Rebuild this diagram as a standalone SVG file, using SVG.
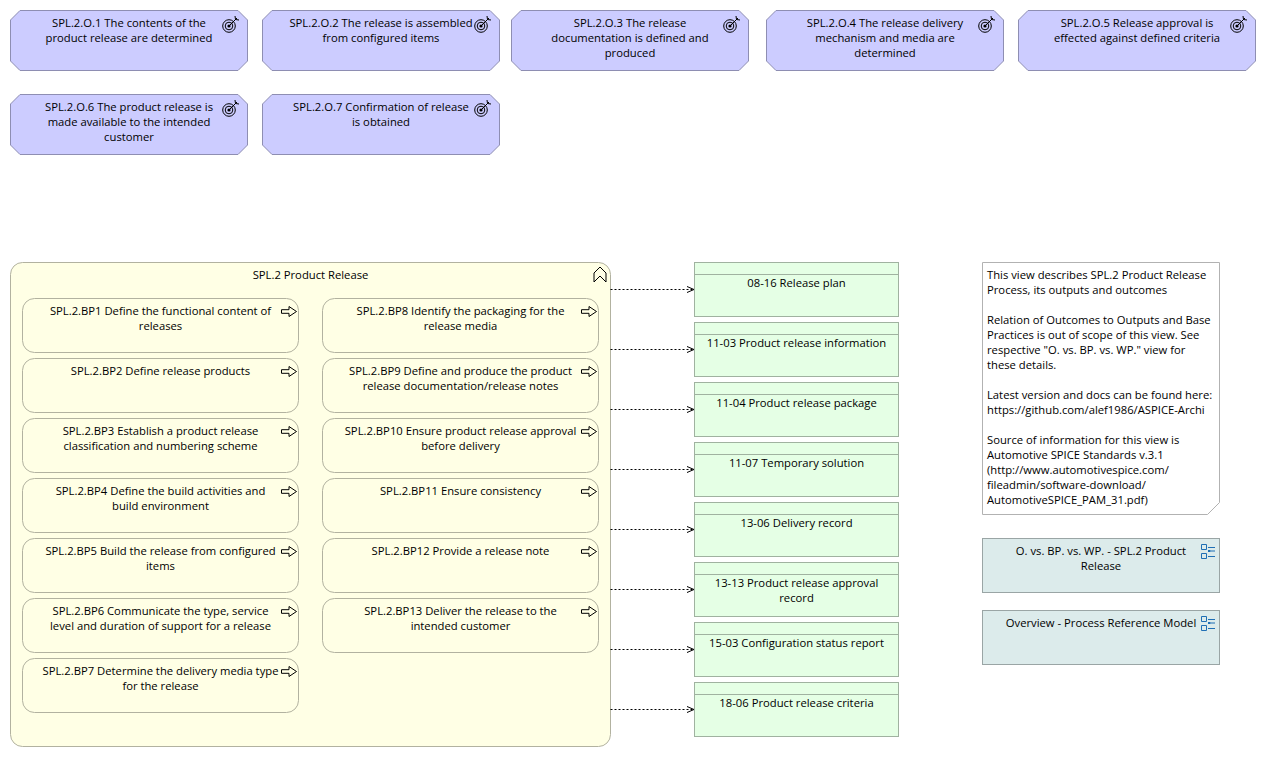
<svg xmlns="http://www.w3.org/2000/svg" width="1266" height="757" viewBox="0 0 1266 757">
<style>
text{font-family:"Open Sans","Noto Sans","Liberation Sans",sans-serif;font-size:11.25px;fill:#000;text-anchor:middle}
.l{text-anchor:start}
.goal{fill:#ccccff;stroke:#8e8eb2}
.bp{fill:#ffffe5;stroke:#b2b2a0}
.wp{fill:#e5ffe5;stroke:#a0b2a0}
.note{fill:#fff;stroke:#b2b2b2}
.view{fill:#dcebeb;stroke:#9aa5a5}
.ic{fill:none;stroke:#000}
.ib{fill:none;stroke:#1f6fb5}
.cn{fill:none;stroke:#000;stroke-dasharray:2 2}
</style>
<defs>
<path id="goalshape" d="M10 .5H228L237.500 10V51L228 60.500H10L.5 51V10Z"/>
<g id="target"><circle cx="0" cy="0" r="6.300" class="ic" stroke="#333" stroke-width="1"/><circle cx="0" cy="0" r="3.800" class="ic" stroke="#333" stroke-width="1"/><circle cx="0" cy="0" r="1.600" fill="#000"/><path d="M0 0L8-8M6-10L6.500-6.500L10-6" class="ic" stroke="#333"/></g>
<path id="arrow" d="M-7.500-1.800H0V-5L7.500 0L0 5V1.800H-7.500Z" fill="none" stroke="#000"/>
<g id="viewicon"><path d="M.5 .5H5.500V5.500H.5ZM.5 9.500H5.500V14.500H.5Z" class="ib"/><rect x="7" y="6" width="2.500" height="2" fill="#1f6fb5"/><path d="M7 3.500H14M7 12.500H14M9.500 7H14" class="ib"/></g>
<marker id="open" markerWidth="8" markerHeight="8" refX="7" refY="4" orient="auto" markerUnits="userSpaceOnUse"><path d="M0 1L7 4L0 7" fill="none" stroke="#000"/></marker>
</defs>

<g id="goal1"><use href="#goalshape" x="10" y="10" class="goal"/><use href="#target" x="229" y="26"/><text x="129" y="27">SPL.2.O.1 The contents of the</text><text x="129" y="42">product release are determined</text></g>
<g id="goal2"><use href="#goalshape" x="262" y="10" class="goal"/><use href="#target" x="481" y="26"/><text x="381" y="27">SPL.2.O.2 The release is assembled</text><text x="381" y="42">from configured items</text></g>
<g id="goal3"><use href="#goalshape" x="511" y="10" class="goal"/><use href="#target" x="730" y="26"/><text x="630" y="27">SPL.2.O.3 The release</text><text x="630" y="42">documentation is defined and</text><text x="630" y="57">produced</text></g>
<g id="goal4"><use href="#goalshape" x="766" y="10" class="goal"/><use href="#target" x="985" y="26"/><text x="885" y="27">SPL.2.O.4 The release delivery</text><text x="885" y="42">mechanism and media are</text><text x="885" y="57">determined</text></g>
<g id="goal5"><use href="#goalshape" x="1018" y="10" class="goal"/><use href="#target" x="1237" y="26"/><text x="1137" y="27">SPL.2.O.5 Release approval is</text><text x="1137" y="42">effected against defined criteria</text></g>
<g id="goal6"><use href="#goalshape" x="10" y="94" class="goal"/><use href="#target" x="229" y="110"/><text x="129" y="111">SPL.2.O.6 The product release is</text><text x="129" y="126">made available to the intended</text><text x="129" y="141">customer</text></g>
<g id="goal7"><use href="#goalshape" x="262" y="94" class="goal"/><use href="#target" x="481" y="110"/><text x="381" y="111">SPL.2.O.7 Confirmation of release</text><text x="381" y="126">is obtained</text></g>

<g id="process"><rect x="10.500" y="262.500" width="600" height="484" rx="12" class="bp"/><path d="M594 282V273L600 267L606 273V282L600 276Z" class="ic"/><text x="310.500" y="279">SPL.2 Product Release</text></g>

<g id="bp1"><rect x="22.500" y="298.500" width="276" height="54" rx="12" class="bp"/><use href="#arrow" x="289" y="311.500"/><text x="160.500" y="315">SPL.2.BP1 Define the functional content of</text><text x="160.500" y="330">releases</text></g>
<g id="bp2"><rect x="22.500" y="358.500" width="276" height="54" rx="12" class="bp"/><use href="#arrow" x="289" y="371.500"/><text x="160.500" y="375">SPL.2.BP2 Define release products</text></g>
<g id="bp3"><rect x="22.500" y="418.500" width="276" height="54" rx="12" class="bp"/><use href="#arrow" x="289" y="431.500"/><text x="160.500" y="435">SPL.2.BP3 Establish a product release</text><text x="160.500" y="450">classification and numbering scheme</text></g>
<g id="bp4"><rect x="22.500" y="478.500" width="276" height="54" rx="12" class="bp"/><use href="#arrow" x="289" y="491.500"/><text x="160.500" y="495">SPL.2.BP4 Define the build activities and</text><text x="160.500" y="510">build environment</text></g>
<g id="bp5"><rect x="22.500" y="538.500" width="276" height="54" rx="12" class="bp"/><use href="#arrow" x="289" y="551.500"/><text x="160.500" y="555">SPL.2.BP5 Build the release from configured</text><text x="160.500" y="570">items</text></g>
<g id="bp6"><rect x="22.500" y="598.500" width="276" height="54" rx="12" class="bp"/><use href="#arrow" x="289" y="611.500"/><text x="160.500" y="615">SPL.2.BP6 Communicate the type, service</text><text x="160.500" y="630">level and duration of support for a release</text></g>
<g id="bp7"><rect x="22.500" y="658.500" width="276" height="54" rx="12" class="bp"/><use href="#arrow" x="289" y="671.500"/><text x="160.500" y="675">SPL.2.BP7 Determine the delivery media type</text><text x="160.500" y="690">for the release</text></g>
<g id="bp8"><rect x="322.500" y="298.500" width="276" height="54" rx="12" class="bp"/><use href="#arrow" x="589" y="311.500"/><text x="460.500" y="315">SPL.2.BP8 Identify the packaging for the</text><text x="460.500" y="330">release media</text></g>
<g id="bp9"><rect x="322.500" y="358.500" width="276" height="54" rx="12" class="bp"/><use href="#arrow" x="589" y="371.500"/><text x="460.500" y="375">SPL.2.BP9 Define and produce the product</text><text x="460.500" y="390">release documentation/release notes</text></g>
<g id="bp10"><rect x="322.500" y="418.500" width="276" height="54" rx="12" class="bp"/><use href="#arrow" x="589" y="431.500"/><text x="460.500" y="435">SPL.2.BP10 Ensure product release approval</text><text x="460.500" y="450">before delivery</text></g>
<g id="bp11"><rect x="322.500" y="478.500" width="276" height="54" rx="12" class="bp"/><use href="#arrow" x="589" y="491.500"/><text x="460.500" y="495">SPL.2.BP11 Ensure consistency</text></g>
<g id="bp12"><rect x="322.500" y="538.500" width="276" height="54" rx="12" class="bp"/><use href="#arrow" x="589" y="551.500"/><text x="460.500" y="555">SPL.2.BP12 Provide a release note</text></g>
<g id="bp13"><rect x="322.500" y="598.500" width="276" height="54" rx="12" class="bp"/><use href="#arrow" x="589" y="611.500"/><text x="460.500" y="615">SPL.2.BP13 Deliver the release to the</text><text x="460.500" y="630">intended customer</text></g>

<g id="wp1"><rect x="694.500" y="262.500" width="204" height="54" class="wp"/><path d="M694.500 274.500H898.500" class="wp"/><text x="796.500" y="287">08-16 Release plan</text></g>
<g id="wp2"><rect x="694.500" y="322.500" width="204" height="54" class="wp"/><path d="M694.500 334.500H898.500" class="wp"/><text x="796.500" y="347">11-03 Product release information</text></g>
<g id="wp3"><rect x="694.500" y="382.500" width="204" height="54" class="wp"/><path d="M694.500 394.500H898.500" class="wp"/><text x="796.500" y="407">11-04 Product release package</text></g>
<g id="wp4"><rect x="694.500" y="442.500" width="204" height="54" class="wp"/><path d="M694.500 454.500H898.500" class="wp"/><text x="796.500" y="467">11-07 Temporary solution</text></g>
<g id="wp5"><rect x="694.500" y="502.500" width="204" height="54" class="wp"/><path d="M694.500 514.500H898.500" class="wp"/><text x="796.500" y="527">13-06 Delivery record</text></g>
<g id="wp6"><rect x="694.500" y="562.500" width="204" height="54" class="wp"/><path d="M694.500 574.500H898.500" class="wp"/><text x="796.500" y="587">13-13 Product release approval</text><text x="796.500" y="602">record</text></g>
<g id="wp7"><rect x="694.500" y="622.500" width="204" height="54" class="wp"/><path d="M694.500 634.500H898.500" class="wp"/><text x="796.500" y="647">15-03 Configuration status report</text></g>
<g id="wp8"><rect x="694.500" y="682.500" width="204" height="54" class="wp"/><path d="M694.500 694.500H898.500" class="wp"/><text x="796.500" y="707">18-06 Product release criteria</text></g>

<g id="connectors">
<path d="M610.500 289.500H694" class="cn" marker-end="url(#open)"/>
<path d="M610.500 349.500H694" class="cn" marker-end="url(#open)"/>
<path d="M610.500 409.500H694" class="cn" marker-end="url(#open)"/>
<path d="M610.500 469.500H694" class="cn" marker-end="url(#open)"/>
<path d="M610.500 529.500H694" class="cn" marker-end="url(#open)"/>
<path d="M610.500 589.500H694" class="cn" marker-end="url(#open)"/>
<path d="M610.500 649.500H694" class="cn" marker-end="url(#open)"/>
<path d="M610.500 709.500H694" class="cn" marker-end="url(#open)"/>
</g>

<g id="note"><path d="M982.500 262.500H1219.500V502.500L1207.500 514.500H982.500Z" class="note"/>
<text class="l" x="987" y="279">This view describes SPL.2 Product Release</text>
<text class="l" x="987" y="294">Process, its outputs and outcomes</text>
<text class="l" x="987" y="324">Relation of Outcomes to Outputs and Base</text>
<text class="l" x="987" y="339">Practices is out of scope of this view. See</text>
<text class="l" x="987" y="354">respective "O. vs. BP. vs. WP." view for</text>
<text class="l" x="987" y="369">these details.</text>
<text class="l" x="987" y="399">Latest version and docs can be found here:</text>
<text class="l" x="987" y="414">https://github.com/alef1986/ASPICE-Archi</text>
<text class="l" x="987" y="444">Source of information for this view is</text>
<text class="l" x="987" y="459">Automotive SPICE Standards v.3.1</text>
<text class="l" x="987" y="474">(http://www.automotivespice.com/</text>
<text class="l" x="987" y="489">fileadmin/software-download/</text>
<text class="l" x="987" y="504">AutomotiveSPICE_PAM_31.pdf)</text>
</g>
<g id="view1"><rect x="982.500" y="538.500" width="237" height="54" class="view"/><use href="#viewicon" x="1201" y="544"/><text x="1101" y="555">O. vs. BP. vs. WP. - SPL.2 Product</text><text x="1101" y="570">Release</text></g>
<g id="view2"><rect x="982.500" y="610.500" width="237" height="54" class="view"/><use href="#viewicon" x="1201" y="616"/><text x="1101" y="627">Overview - Process Reference Model</text></g>
</svg>
